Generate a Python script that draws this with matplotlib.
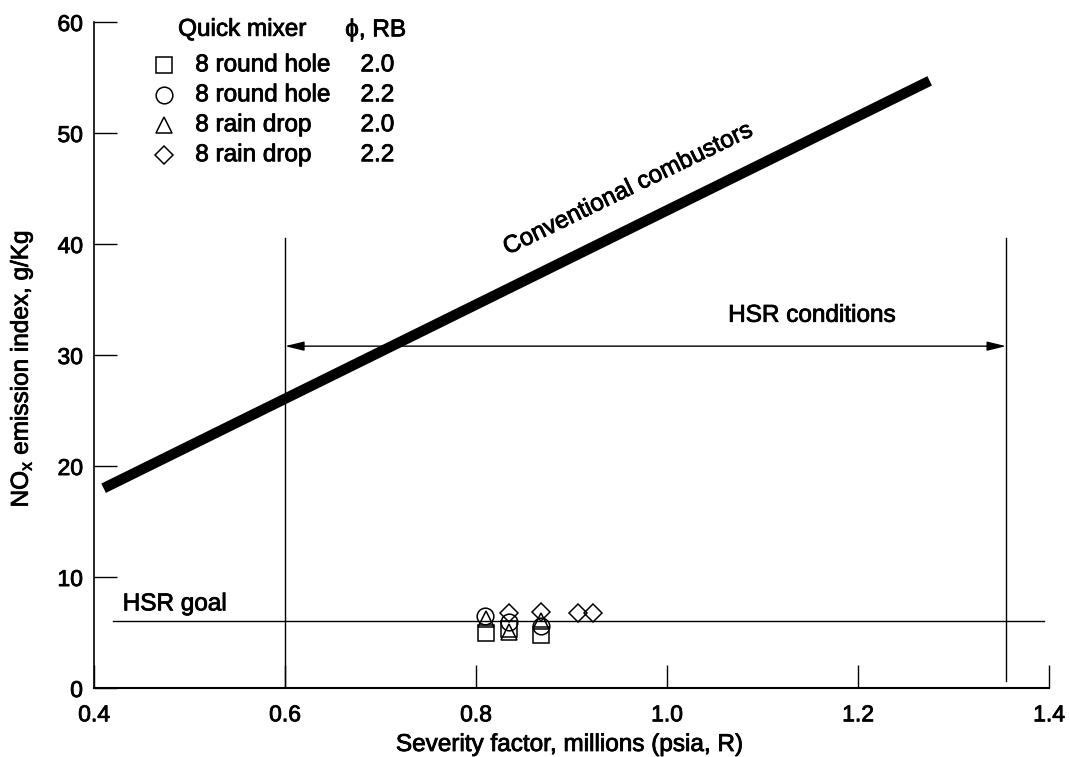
import matplotlib
matplotlib.use("Agg")
import matplotlib.pyplot as plt
import matplotlib.patheffects as pe

plt.rcParams['font.family'] = ['Liberation Sans', 'DejaVu Sans']

# conventional combustor trend line (end points)
conv_x = [0.41, 1.275]
conv_y = [18.0, 54.7]

# HSR operating range and goal
hsr_range = [0.6, 1.355]
hsr_top = 40.5
hsr_arrow_y = 30.8
hsr_goal = 6.0
goal_x = [0.42, 1.395]

# quick mixer test points
sq_x = [0.810, 0.834, 0.868]
sq_y = [4.98, 5.30, 4.77]
ci_x = [0.809, 0.834, 0.868]
ci_y = [6.52, 5.97, 5.58]
tr_x = [0.810, 0.834, 0.868]
tr_y = [6.20, 5.05, 6.00]
di_x = [0.835, 0.868, 0.907, 0.922]
di_y = [6.73, 6.82, 6.73, 6.73]

mixers = ['8 round hole', '8 round hole', '8 rain drop', '8 rain drop']
phi_rb = ['2.0', '2.2', '2.0', '2.2']
markers = ['s', 'o', '^', 'D']
msizes = [12, 12, 12, 9.5]

fs = 17.5
# slightly heavier strokes for all lettering
heavy = [pe.withStroke(linewidth=0.6, foreground='black')]

fig = plt.figure(figsize=(10.7, 7.57), dpi=100)
ax = fig.add_axes([0.0879, 0.0911, 0.8925, 0.8798])
ax.set_xlim(0.4, 1.4)
ax.set_ylim(0, 60)

ax.plot(conv_x, conv_y, color='black', lw=7.5, solid_capstyle='butt')
ax.text(0.959, 44.9, 'Conventional combustors', rotation=26, fontsize=fs,
        ha='center', va='center', rotation_mode='anchor', path_effects=heavy)

ax.plot([hsr_range[0]] * 2, [0, hsr_top], color='black', lw=1)
ax.plot([hsr_range[1]] * 2, [0.6, hsr_top], color='black', lw=1)
ax.annotate('', xy=(hsr_range[0], hsr_arrow_y), xytext=(hsr_range[1], hsr_arrow_y),
            arrowprops=dict(arrowstyle='<|-|>,head_length=1.15,head_width=0.28',
                            mutation_scale=10, color='black', lw=1,
                            shrinkA=0, shrinkB=0))
ax.text(1.064, 33.0, 'HSR conditions', fontsize=fs, ha='left', va='baseline',
        path_effects=heavy)

ax.plot(goal_x, [hsr_goal, hsr_goal], color='black', lw=1)
ax.text(0.43, 7.0, 'HSR goal', fontsize=fs, ha='left', va='baseline',
        path_effects=heavy)

series = [(sq_x, sq_y), (ci_x, ci_y), (tr_x, tr_y), (di_x, di_y)]
for (xs, ys), m, ms in zip(series, markers, msizes):
    ax.plot(xs, ys, linestyle='none', marker=m, markersize=ms,
            markerfacecolor='none', markeredgecolor='black', markeredgewidth=1.1)

# key in the upper left corner
ax.text(0.488, 59.3, 'Quick mixer', fontsize=fs, ha='left', va='center',
        path_effects=heavy)
ax.text(0.663, 59.3, '\u03d5, RB', fontsize=fs, ha='left', va='center',
        path_effects=heavy)
row_y = [56.1, 53.4, 50.7, 48.0]
for yy, name, val, m, ms in zip(row_y, mixers, phi_rb, markers, msizes):
    ax.plot([0.4733], [yy], linestyle='none', marker=m, markersize=ms,
            markerfacecolor='none', markeredgecolor='black', markeredgewidth=1.1)
    ax.text(0.506, yy, name, fontsize=fs, ha='left', va='center', path_effects=heavy)
    ax.text(0.679, yy, val, fontsize=fs, ha='left', va='center', path_effects=heavy)

ax.spines['top'].set_visible(False)
ax.spines['right'].set_visible(False)
ax.spines['left'].set_linewidth(1.2)
ax.spines['bottom'].set_linewidth(1.5)

ax.set_xticks([0.4, 0.6, 0.8, 1.0, 1.2, 1.4])
ax.set_xticklabels(['0.4', '0.6', '0.8', '1.0', '1.2', '1.4'])
ax.set_yticks([0, 10, 20, 30, 40, 50, 60])
ax.tick_params(direction='in', length=16.5, width=1, labelsize=16.5)
ax.tick_params(axis='x', pad=11)
ax.tick_params(axis='y', pad=8)
for lbl in ax.get_xticklabels() + ax.get_yticklabels():
    lbl.set_path_effects(heavy)

ax.set_xlabel('Severity factor, millions (psia, R)', fontsize=fs, path_effects=heavy)
ax.set_ylabel(r'NO$_\mathregular{x}$ emission index, g/Kg', fontsize=fs,
              path_effects=heavy)
ax.xaxis.set_label_coords(0.497, -0.069)
ax.yaxis.set_label_coords(-0.062, 0.479)

fig.savefig('out.png', dpi=100)
